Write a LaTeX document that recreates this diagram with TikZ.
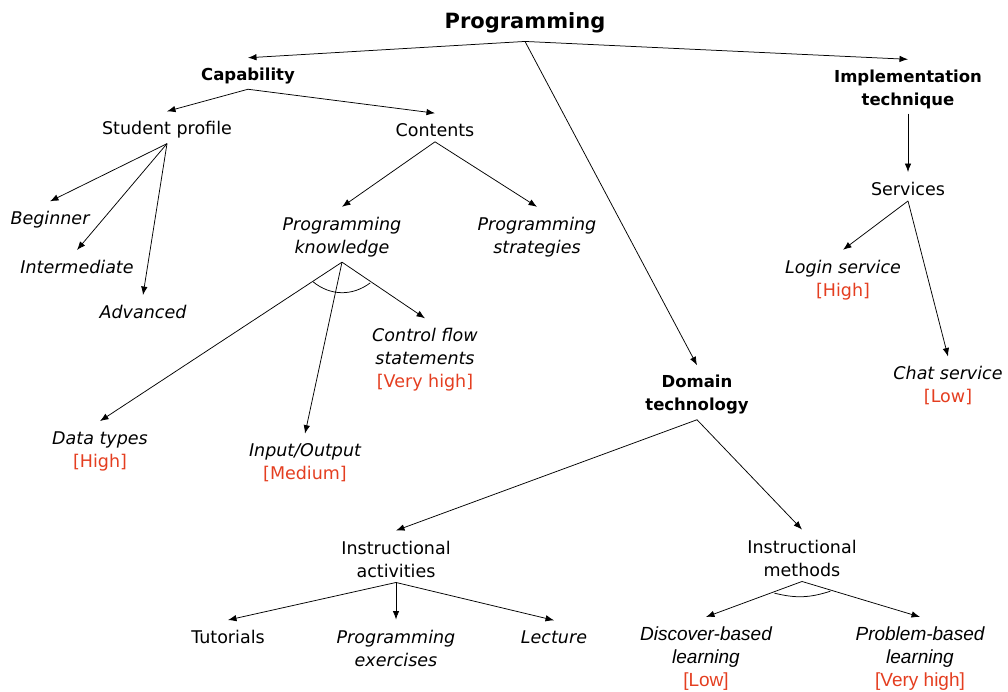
\documentclass[tikz,border=0pt]{standalone}
\usepackage{fontspec}
\setmainfont{DejaVu Sans}
\newfontfamily\arialfont{Liberation Sans}
\usetikzlibrary{arrows.meta,calc}
\definecolor{levelred}{RGB}{228,62,32}
\newcommand{\lvl}[1]{{\upshape\color{levelred}[#1]}}
\def\andarc[#1](#2)(#3:#4:#5){\draw[line width=0.75pt] ($(#2.south)!#5!(#3.north)$) to[#1] ($(#2.south)!#5!(#4.north)$);}

\begin{document}
\begin{tikzpicture}[x=1pt,y=-1pt,
    lbl/.style={align=center, inner xsep=2pt, inner ysep=5pt, font=\fontsize{17.5}{23}\selectfont},
    head/.style={lbl, font=\fontsize{16.5}{23}\selectfont\bfseries},
    rootlbl/.style={lbl, inner ysep=8pt, font=\fontsize{21}{25}\selectfont\bfseries},
    leaf/.style={lbl, font=\fontsize{17.5}{23}\selectfont\itshape},
    leafarial/.style={lbl, font=\fontsize{19}{23}\selectfont\arialfont\itshape},
    link/.style={-{Latex[length=8.5pt,width=6.5pt]}, line width=0.75pt}]
    \useasboundingbox (0,0) rectangle (1008,692);

    %%%%% TOP LEVEL %%%%%
    \node[rootlbl] (root) at (525,23) {Programming};
    \node[head] (cap) at (248,76) {Capability};
    \node[head] (dom) at (697,395) {Domain\\technology};
    \node[head] (impl) at (908,89) {Implementation\\technique};

    %%%%% CAPABILITY %%%%%
    \node[lbl] (sprof) at (167,130) {Student profile};
    \node[lbl] (cont) at (435,130) {Contents};
    \node[leaf] (beg) at (50,220) {Beginner};
    \node[leaf] (inter) at (77,267) {Intermediate};
    \node[leaf] (adv) at (143,312) {Advanced};
    \node[leaf] (pknow) at (342,237) {Programming\\knowledge};
    \node[leaf] (pstrat) at (537,237) {Programming\\strategies};
    \node[leaf] (ctrl) at (425,360) {Control flow\\statements\\\lvl{Very high}};
    \node[leaf] (dtypes) at (100,451) {Data types\\\lvl{High}};
    \node[leaf] (io) at (305,463) {Input/Output\\\lvl{Medium}};

    %%%%% DOMAIN TECHNOLOGY %%%%%
    \node[lbl] (iact) at (396,559) {Instructional\\activities};
    \node[lbl] (imeth) at (802,558) {Instructional\\methods};
    \node[lbl] (tut) at (228,637) {Tutorials};
    \node[leaf] (pex) at (396,648) {Programming\\exercises};
    \node[leaf] (lect) at (554,637) {Lecture};
    \node[leafarial] (disc) at (706,659) {Discover-based\\learning\\\lvl{Low}};
    \node[leafarial] (prob) at (920,659) {Problem-based\\learning\\\lvl{Very high}};

    %%%%% IMPLEMENTATION %%%%%
    \node[lbl] (serv) at (908,189) {Services};
    \node[leaf] (login) at (843,280) {Login service\\\lvl{High}};
    \node[leaf] (chat) at (948,386) {Chat service\\\lvl{Low}};

    \foreach \a/\b in {root/cap, root/dom, root/impl, cap/sprof, cap/cont,
        sprof/beg, sprof/inter, sprof/adv, cont/pknow, cont/pstrat,
        pknow/dtypes, pknow/io, pknow/ctrl, dom/iact, dom/imeth,
        iact/tut, iact/pex, iact/lect, imeth/disc, imeth/prob,
        impl/serv, serv/login, serv/chat}
        \draw[link] (\a.south) -- ([yshift=5pt]\b.north);

    \andarc[bend right=38](pknow)(dtypes:ctrl:35pt);
    \andarc[bend right=16](imeth)(disc:prob:30pt);
\end{tikzpicture}
\end{document}
